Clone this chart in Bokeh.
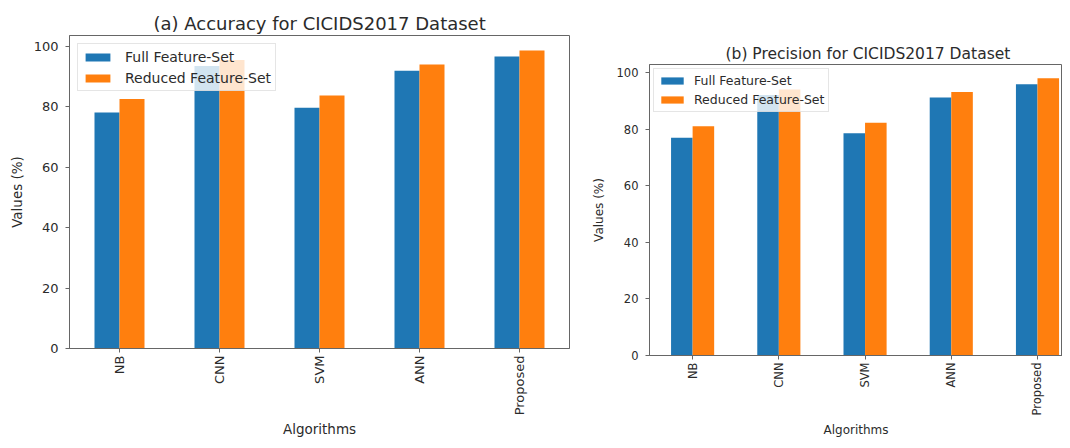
import math
from bokeh.plotting import figure
from bokeh.models import ColumnDataSource, Range1d, FixedTicker, Legend, LegendItem, Title
from bokeh.transform import dodge
from bokeh.embed import file_html
from bokeh.resources import INLINE

categories = ["NB", "CNN", "SVM", "ANN", "Proposed"]
acc_full = [78.1, 93.5, 79.7, 92.0, 96.7]
acc_reduced = [82.6, 95.5, 83.8, 94.0, 98.7]
prec_full = [76.9, 92.0, 78.5, 91.1, 95.8]
prec_reduced = [81.0, 94.0, 82.2, 93.1, 97.9]
y_ticks = [0, 20, 40, 60, 80, 100]
series_names = ["Full Feature-Set", "Reduced Feature-Set"]

BLUE = "#1f77b4"
ORANGE = "#ff7f0e"
FONT = "DejaVu Sans"
TXT = "#2b2b2b"
AX = "#666666"


def make(title, full, reduced, cfg):
    src = ColumnDataSource(dict(x=list(range(len(categories))), full=full, reduced=reduced))
    ymax = max(max(full), max(reduced)) * 1.05
    p = figure(width=cfg["w"], height=cfg["h"], output_backend="svg", toolbar_location=None,
               x_range=Range1d(-0.5, cfg["x_end"]), y_range=Range1d(0, ymax),
               min_border_left=cfg["bl"], min_border_right=cfg["br"],
               min_border_top=cfg["bt"], min_border_bottom=cfg["bb"])
    p.title = Title(text=title, align="left", text_font=FONT,
                    text_font_size=cfg["title_fs"], text_font_style="normal",
                    text_color=TXT, offset=cfg["title_offset"], standoff=cfg["title_standoff"])
    r1 = p.vbar(x=dodge("x", -0.125), top="full", width=0.25, source=src,
                fill_color=BLUE, line_color=None)
    r2 = p.vbar(x=dodge("x", 0.125), top="reduced", width=0.25, source=src,
                fill_color=ORANGE, line_color=None)
    p.xgrid.visible = False
    p.ygrid.visible = False
    p.outline_line_color = AX
    p.outline_line_width = 1
    p.background_fill_color = "white"
    p.border_fill_color = "white"

    xa = p.xaxis[0]
    xa.ticker = FixedTicker(ticks=list(range(len(categories))))
    xa.major_label_overrides = {i: c for i, c in enumerate(categories)}
    xa.major_label_orientation = math.pi / 2
    xa.axis_label = "Algorithms"
    ya = p.yaxis[0]
    ya.ticker = FixedTicker(ticks=y_ticks)
    ya.axis_label = "Values (%)"
    for ax in (xa, ya):
        ax.minor_tick_line_color = None
        ax.major_tick_in = 0
        ax.major_tick_out = 4
        ax.major_tick_line_color = AX
        ax.axis_line_color = AX
        ax.major_label_text_font = FONT
        ax.major_label_text_font_size = cfg["tick_fs"]
        ax.major_label_text_color = TXT
        ax.axis_label_text_font = FONT
        ax.axis_label_text_font_size = cfg["label_fs"]
        ax.axis_label_text_font_style = "normal"
        ax.axis_label_text_color = TXT
    xa.major_label_standoff = cfg["xtick_standoff"]
    ya.major_label_standoff = cfg["ytick_standoff"]
    xa.axis_label_standoff = cfg["xlabel_standoff"]
    ya.axis_label_standoff = cfg["ylabel_standoff"]

    legend = Legend(items=[LegendItem(label=series_names[0], renderers=[r1]),
                           LegendItem(label=series_names[1], renderers=[r2])],
                    location="top_left", margin=cfg["lmargin"],
                    padding=cfg["lpad"], spacing=cfg["lspacing"],
                    glyph_width=cfg["gw"], glyph_height=cfg["gh"],
                    label_height=cfg["lh"], label_standoff=cfg["ls"],
                    label_text_font=FONT, label_text_font_size=cfg["legend_fs"],
                    label_text_color=TXT, border_line_color="#cccccc",
                    background_fill_alpha=0.8)
    p.add_layout(legend, "center")
    return p


p1 = make("(a) Accuracy for CICIDS2017 Dataset", acc_full, acc_reduced,
          dict(w=588, h=440, bl=69, br=19, bt=35, bb=92, x_end=4.5,
               title_fs="18px", title_offset=84, title_standoff=4,
               tick_fs="13px", label_fs="13.5px", legend_fs="14px",
               xtick_standoff=3, ytick_standoff=7, xlabel_standoff=3, ylabel_standoff=6,
               lmargin=8, lpad=4, lspacing=4, gw=31, gh=10, lh=17, ls=12))
p2 = make("(b) Precision for CICIDS2017 Dataset", prec_full, prec_reduced,
          dict(w=474, h=440, bl=58, br=0, bt=64, bb=85, x_end=4.29,
               title_fs="15.5px", title_offset=76, title_standoff=3,
               tick_fs="11.5px", label_fs="12px", legend_fs="12.5px",
               xtick_standoff=3, ytick_standoff=7, xlabel_standoff=5, ylabel_standoff=8,
               lmargin=4, lpad=4, lspacing=4, gw=28, gh=9, lh=15, ls=8))

# place the second panel beside the first one, each with its own independent frame
p2.styles = {"margin-left": "588px", "margin-top": "-440px"}

open("out.html", "w").write(file_html([p1, p2], INLINE))
